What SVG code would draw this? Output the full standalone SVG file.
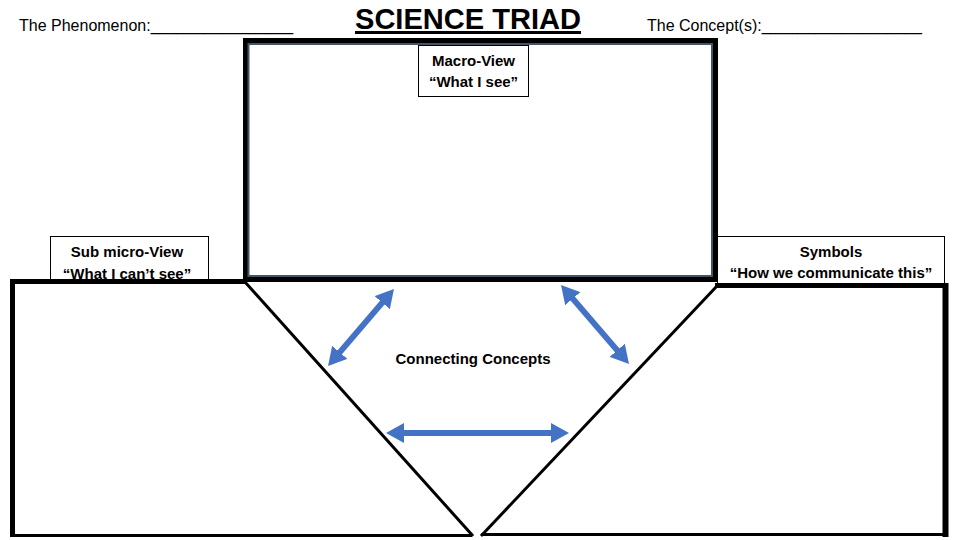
<svg xmlns="http://www.w3.org/2000/svg" width="960" height="540" viewBox="0 0 960 540">
<style>
.hdr{font-family:"Liberation Sans",Arial,sans-serif;font-size:16px;fill:#000}
.lbl{font-family:"Liberation Sans",Arial,sans-serif;font-size:15px;font-weight:bold;fill:#000;text-anchor:middle}
.box{fill:#fff;stroke:#000;stroke-width:1}
.thick{stroke:#000;stroke-width:5;fill:none}
.thin{stroke:#000;stroke-width:3;fill:none}
.arrow{stroke:#4472C4;stroke-width:6;fill:none;marker-start:url(#head);marker-end:url(#head)}
</style>
<defs>
<marker id="head" viewBox="0 0 18 20" refX="3" refY="10" markerWidth="18" markerHeight="20" markerUnits="userSpaceOnUse" orient="auto-start-reverse">
<path d="M0,0 L18,10 L0,20 z" fill="#4472C4"/>
</marker>
</defs>
<rect width="960" height="540" fill="#fff"/>

<g id="header">
<text class="hdr" x="19" y="31">The Phenomenon:________________</text>
<text x="468" y="29" font-family="'Liberation Sans',Arial,sans-serif" font-size="30" font-weight="bold" text-anchor="middle" text-decoration="underline" textLength="226" lengthAdjust="spacingAndGlyphs">SCIENCE TRIAD</text>
<text class="hdr" x="647" y="31">The Concept(s):__________________</text>
</g>

<g id="macro">
<rect x="245.5" y="40.5" width="470" height="239" class="thick"/>
<rect x="248.5" y="44" width="463.5" height="232" fill="none" stroke="#44546A" stroke-width="2"/>
<rect x="418.5" y="45.5" width="110" height="51" class="box"/>
<text class="lbl" x="473.5" y="66">Macro-View</text>
<text class="lbl" x="473.5" y="87">“What I see”</text>
</g>

<g id="submicro">
<rect x="50.5" y="236.5" width="158" height="46" class="box"/>
<text class="lbl" x="127" y="257">Sub micro-View</text>
<text class="lbl" x="127" y="279">“What I can’t see”</text>
<line x1="10" y1="281.5" x2="247" y2="281.5" class="thick"/>
<line x1="12.5" y1="279" x2="12.5" y2="537" class="thick"/>
<line x1="10" y1="535.5" x2="472" y2="535.5" class="thin"/>
<line x1="245" y1="282" x2="473" y2="536" class="thin"/>
</g>

<g id="symbols">
<rect x="717.5" y="236.5" width="227" height="50" class="box"/>
<text class="lbl" x="831" y="257">Symbols</text>
<text class="lbl" x="831" y="278">“How we communicate this”</text>
<line x1="715" y1="285.5" x2="948" y2="285.5" class="thick"/>
<line x1="945.5" y1="283" x2="945.5" y2="537" stroke="#000" stroke-width="6"/>
<line x1="481" y1="534.5" x2="948" y2="534.5" class="thin"/>
<line x1="717" y1="286" x2="481" y2="536" class="thin"/>
</g>

<g id="connecting">
<text class="lbl" x="473" y="364">Connecting Concepts</text>
</g>

<g id="connectors">
<line x1="337.8" y1="354.6" x2="384.2" y2="300.4" class="arrow"/>
<line x1="570.8" y1="296.4" x2="619.2" y2="352.6" class="arrow"/>
<line x1="401" y1="433" x2="554" y2="433" class="arrow"/>
</g>
</svg>
